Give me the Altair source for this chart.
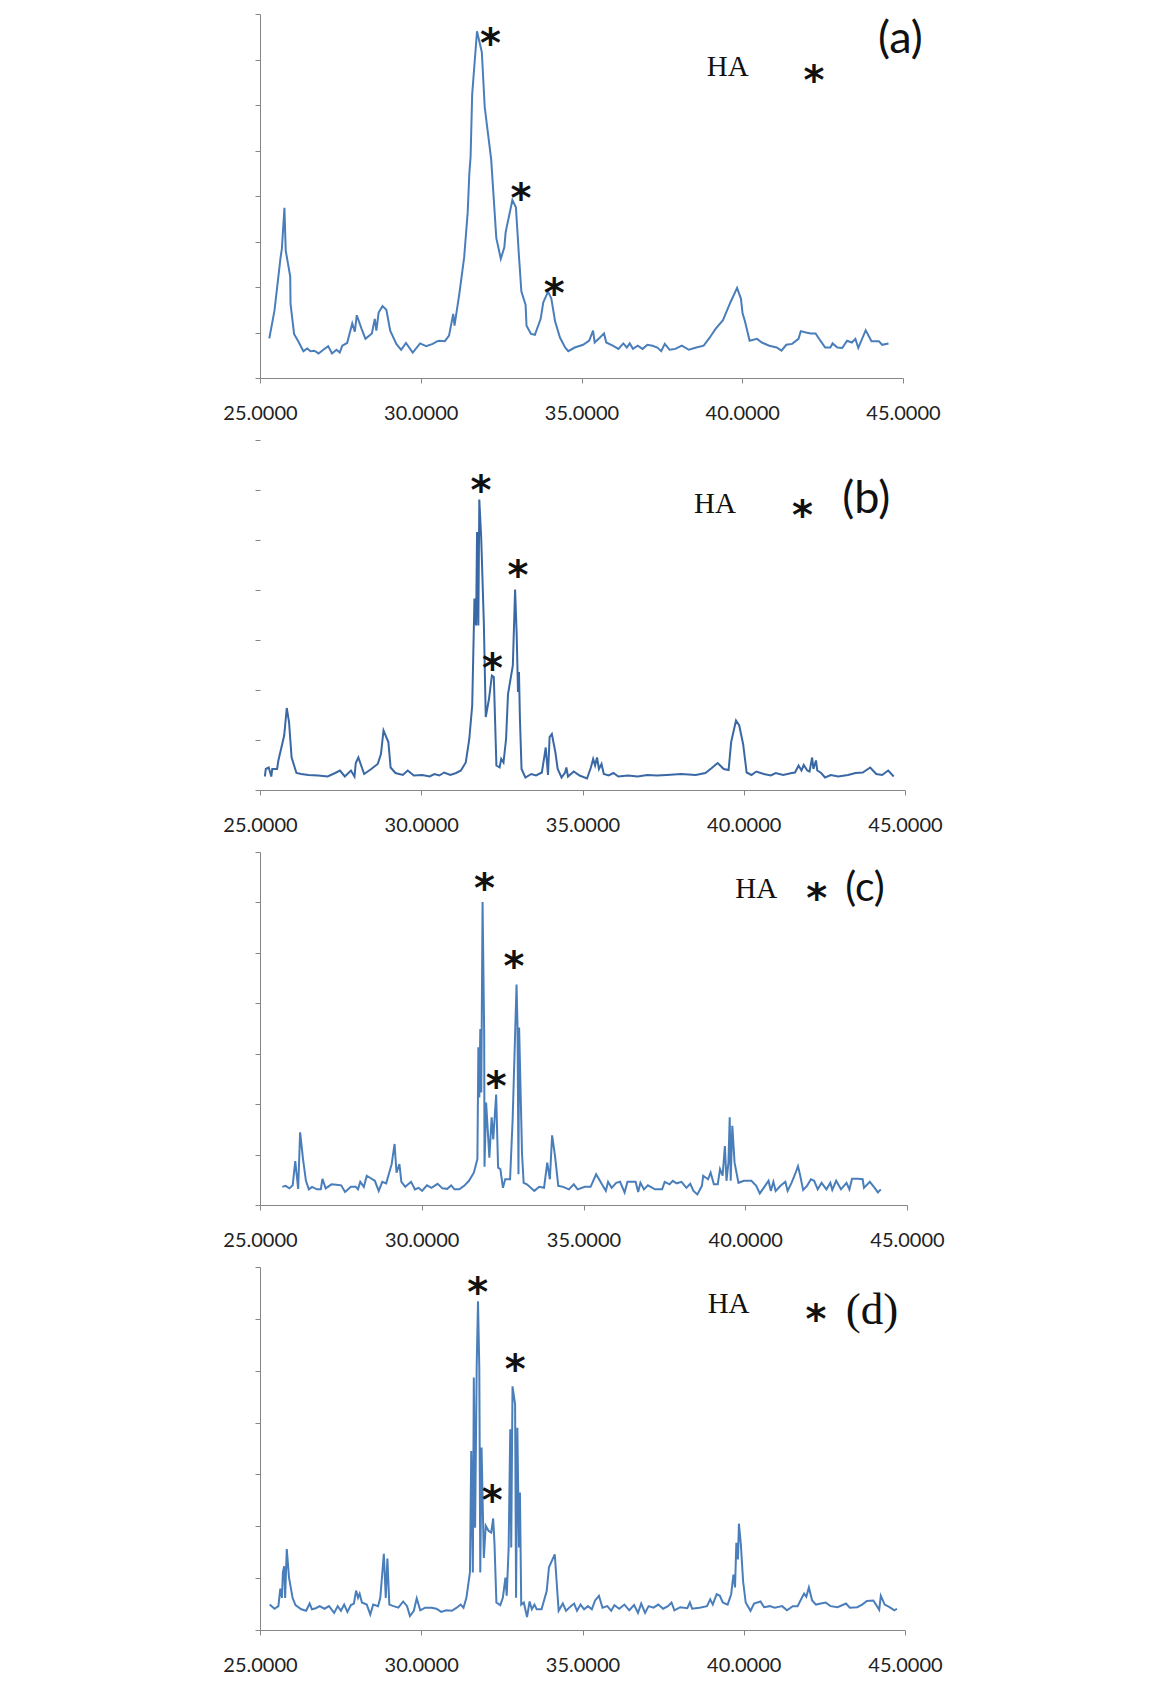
import altair as alt
import pandas as pd

X_TICKS = [25, 30, 35, 40, 45]

# ---------------- panel (a) ----------------
A_PTS = [(25.29,0.87),(25.45,1.48),(25.64,2.65),(25.68,2.84),(25.76,3.74),(25.80,2.80),(25.94,2.23),(25.95,1.63),
 (26.06,0.97),(26.21,0.78),(26.35,0.59),(26.47,0.65),(26.57,0.59),(26.69,0.60),(26.82,0.54),(26.97,0.62),(27.12,0.70),
 (27.24,0.54),(27.38,0.62),(27.48,0.56),(27.56,0.71),(27.71,0.77),(27.87,1.20),(27.95,1.02),(28.01,1.38),(28.16,1.08),
 (28.28,0.86),(28.48,0.98),(28.57,1.30),(28.62,1.04),(28.69,1.44),(28.81,1.58),(28.93,1.50),(29.05,1.04),(29.24,0.75),
 (29.39,0.62),(29.54,0.77),(29.75,0.56),(29.98,0.76),(30.17,0.70),(30.37,0.75),(30.52,0.81),(30.58,0.82),(30.75,0.81),
 (30.88,0.93),(31.01,1.41),(31.05,1.15),(31.20,1.85),(31.35,2.65),(31.46,3.64),(31.51,4.48),(31.55,4.86),(31.60,6.24),
 (31.75,7.62),(31.90,7.16),(31.99,5.95),(32.19,4.81),(32.35,3.08),(32.49,2.62),(32.60,2.87),(32.64,3.20),(32.85,3.91),
 (32.96,3.75),(33.05,2.73),(33.13,1.90),(33.26,1.61),(33.29,1.15),(33.43,0.97),(33.55,0.95),(33.73,1.30),(33.81,1.66),
 (33.96,1.90),(34.06,1.75),(34.18,1.24),(34.33,0.89),(34.49,0.67),(34.59,0.59),(34.79,0.67),(35.05,0.73),(35.24,0.82),
 (35.36,1.04),(35.41,0.78),(35.56,0.88),(35.70,0.98),(35.77,0.78),(35.97,0.71),(36.15,0.64),(36.30,0.76),(36.41,0.67),
 (36.50,0.76),(36.60,0.64),(36.75,0.71),(36.90,0.64),(37.05,0.73),(37.21,0.71),(37.36,0.67),(37.48,0.59),(37.59,0.75),
 (37.74,0.62),(37.92,0.64),(38.12,0.71),(38.34,0.62),(38.57,0.67),(38.80,0.71),(38.98,0.88),(39.17,1.08),(39.40,1.27),
 (39.63,1.66),(39.84,1.98),(39.96,1.74),(40.01,1.42),(40.08,1.26),(40.23,0.82),(40.46,0.86),(40.61,0.78),(40.84,0.71),
 (41.07,0.67),(41.22,0.60),(41.37,0.73),(41.55,0.75),(41.75,0.86),(41.82,1.03),(41.98,1.00),(42.13,0.98),(42.28,0.98),
 (42.43,0.82),(42.58,0.67),(42.74,0.67),(42.81,0.76),(42.96,0.67),(43.11,0.66),(43.26,0.82),(43.41,0.78),(43.52,0.86),
 (43.61,0.66),(43.84,1.05),(44.02,0.81),(44.25,0.81),(44.35,0.73),(44.55,0.76)]
A_STARS = [(32.17,7.56),(33.12,4.15),(34.15,2.07),(42.23,6.75)]
A_HA = [(39.55,6.83)]
A_LABEL = [(44.92,7.45)]

# ---------------- panel (b) ----------------
B_PTS = [(25.15,0.27),(25.18,0.42),(25.27,0.45),(25.35,0.27),(25.38,0.42),(25.53,0.42),(25.57,0.59),(25.75,1.09),
 (25.83,1.64),(25.90,1.36),(25.98,0.65),(26.13,0.34),(26.28,0.32),(26.50,0.30),(26.80,0.29),(27.10,0.27),(27.33,0.34),
 (27.48,0.39),(27.63,0.27),(27.82,0.39),(27.93,0.27),(27.97,0.54),(28.05,0.65),(28.23,0.32),(28.45,0.42),(28.65,0.52),
 (28.75,0.72),(28.83,1.19),(28.98,0.96),(29.05,0.45),(29.20,0.34),(29.43,0.30),(29.58,0.39),(29.77,0.29),(30.03,0.30),
 (30.26,0.27),(30.41,0.32),(30.56,0.29),(30.71,0.35),(30.90,0.30),(31.08,0.34),(31.23,0.39),(31.38,0.55),(31.49,1.02),
 (31.58,1.69),(31.65,3.83),(31.70,3.29),(31.73,5.16),(31.77,3.29),(31.80,5.81),(31.86,5.03),(31.94,3.36),(32.00,1.46),
 (32.10,1.82),(32.19,2.29),(32.25,2.26),(32.33,0.49),(32.43,0.45),(32.48,0.62),(32.55,0.55),(32.63,1.02),(32.69,1.92),
 (32.84,2.49),(32.91,4.01),(32.96,3.09),(33.00,1.96),(33.03,2.36),(33.06,1.42),(33.11,0.42),(33.23,0.25),(33.41,0.32),
 (33.56,0.29),(33.74,0.35),(33.86,0.85),(33.93,0.30),(33.98,1.06),(34.05,1.12),(34.16,0.75),(34.23,0.42),(34.35,0.25),
 (34.46,0.35),(34.50,0.45),(34.55,0.27),(34.73,0.37),(34.91,0.29),(35.14,0.23),(35.26,0.45),(35.33,0.62),(35.39,0.49),
 (35.45,0.65),(35.51,0.42),(35.59,0.52),(35.66,0.32),(35.81,0.29),(35.96,0.34),(36.11,0.27),(36.41,0.29),(36.71,0.27),
 (37.01,0.30),(37.31,0.29),(37.61,0.30),(38.06,0.32),(38.51,0.30),(38.81,0.34),(38.99,0.43),(39.19,0.54),(39.38,0.42),
 (39.53,0.40),(39.61,0.96),(39.76,1.39),(39.86,1.29),(39.98,0.92),(40.09,0.35),(40.24,0.30),(40.39,0.37),(40.62,0.32),
 (40.84,0.29),(40.99,0.34),(41.22,0.30),(41.49,0.34),(41.59,0.35),(41.70,0.49),(41.79,0.39),(41.86,0.50),(41.97,0.39),
 (42.04,0.37),(42.12,0.65),(42.16,0.42),(42.24,0.59),(42.28,0.39),(42.40,0.34),(42.52,0.25),(42.70,0.30),(42.93,0.27),
 (43.23,0.30),(43.47,0.34),(43.69,0.35),(43.92,0.45),(44.11,0.32),(44.29,0.30),(44.48,0.39),(44.65,0.27)]
B_STARS = [(31.85,6.18),(33.00,4.48),(32.21,2.63),(41.82,5.68)]
B_HA = [(39.11,5.73)]
B_LABEL = [(43.80,5.83)]

# ---------------- panel (c) ----------------
C_PTS = [(25.69,0.36),(25.79,0.38),(25.91,0.33),(26.01,0.39),(26.09,0.87),(26.18,0.32),(26.24,1.44),(26.33,0.91),
 (26.42,0.48),(26.51,0.31),(26.61,0.36),(26.76,0.31),(26.88,0.31),(26.93,0.52),(27.03,0.33),(27.21,0.41),(27.36,0.40),
 (27.51,0.39),(27.63,0.26),(27.81,0.36),(27.96,0.36),(28.03,0.31),(28.10,0.46),(28.21,0.36),(28.30,0.58),(28.40,0.54),
 (28.55,0.48),(28.67,0.28),(28.78,0.46),(28.90,0.43),(29.07,0.81),(29.16,1.21),(29.22,0.64),(29.31,0.81),(29.37,0.46),
 (29.49,0.36),(29.67,0.46),(29.79,0.31),(29.90,0.34),(30.01,0.28),(30.16,0.39),(30.30,0.34),(30.49,0.42),(30.64,0.33),
 (30.79,0.32),(30.91,0.39),(31.01,0.31),(31.16,0.31),(31.31,0.38),(31.46,0.48),(31.61,0.64),(31.72,0.91),(31.75,3.13),
 (31.78,2.13),(31.81,3.49),(31.84,2.23),(31.88,6.01),(31.93,3.36),(31.94,0.76),(31.99,2.03),(32.09,0.94),(32.16,1.74),
 (32.21,1.30),(32.30,2.19),(32.36,0.74),(32.43,0.71),(32.51,0.34),(32.58,0.51),(32.73,0.51),(32.81,1.70),(32.93,4.37),
 (32.96,3.56),(32.99,0.61),(33.01,3.52),(33.06,2.13),(33.10,1.01),(33.15,0.44),(33.25,0.41),(33.48,0.28),(33.63,0.36),
 (33.78,0.34),(33.88,0.84),(33.96,0.51),(34.03,1.38),(34.12,0.97),(34.22,0.38),(34.37,0.36),(34.55,0.31),(34.70,0.41),
 (34.82,0.31),(35.04,0.36),(35.22,0.36),(35.39,0.61),(35.57,0.41),(35.69,0.28),(35.76,0.46),(35.87,0.34),(36.01,0.44),
 (36.13,0.46),(36.27,0.25),(36.36,0.46),(36.61,0.46),(36.69,0.26),(36.76,0.44),(36.87,0.31),(36.99,0.39),(37.21,0.31),
 (37.43,0.31),(37.51,0.46),(37.66,0.41),(37.76,0.48),(37.88,0.43),(38.03,0.46),(38.18,0.34),(38.30,0.42),(38.40,0.28),
 (38.52,0.21),(38.66,0.38),(38.70,0.58),(38.85,0.51),(38.93,0.64),(39.03,0.41),(39.15,0.41),(39.22,0.71),(39.30,0.58),
 (39.37,1.17),(39.42,0.48),(39.48,0.84),(39.52,1.74),(39.55,0.48),(39.60,1.57),(39.67,0.84),(39.79,0.44),(39.96,0.48),
 (40.19,0.48),(40.34,0.38),(40.45,0.23),(40.57,0.34),(40.72,0.48),(40.79,0.28),(40.87,0.46),(40.94,0.28),(41.09,0.38),
 (41.24,0.46),(41.31,0.28),(41.43,0.44),(41.54,0.61),(41.63,0.77),(41.69,0.61),(41.79,0.30),(41.91,0.38),(42.03,0.51),
 (42.13,0.48),(42.24,0.31),(42.36,0.44),(42.51,0.31),(42.63,0.44),(42.69,0.30),(42.81,0.48),(42.96,0.31),(43.13,0.44),
 (43.22,0.31),(43.30,0.52),(43.48,0.52),(43.63,0.51),(43.67,0.34),(43.85,0.46),(44.00,0.34),(44.10,0.25),(44.19,0.31)]
C_STARS = [(31.94,6.47),(32.85,4.91),(32.30,2.53),(42.21,6.27)]
C_HA = [(40.34,6.27)]
C_LABEL = [(43.70,6.27)]

# ---------------- panel (d) ----------------
D_PTS = [(25.30,0.49),(25.45,0.41),(25.57,0.46),(25.63,0.80),(25.68,0.62),(25.71,1.11),(25.75,1.23),(25.78,0.62),
 (25.83,1.56),(25.90,1.01),(26.01,0.62),(26.10,0.48),(26.28,0.40),(26.43,0.37),(26.54,0.51),(26.61,0.40),(26.73,0.42),
 (26.85,0.46),(27.00,0.41),(27.14,0.46),(27.30,0.33),(27.41,0.46),(27.51,0.37),(27.61,0.49),(27.71,0.35),(27.82,0.48),
 (27.91,0.51),(27.98,0.76),(28.04,0.62),(28.09,0.70),(28.16,0.53),(28.31,0.49),(28.42,0.30),(28.51,0.49),(28.66,0.46),
 (28.73,0.62),(28.84,1.47),(28.90,0.62),(28.95,1.38),(29.01,0.49),(29.14,0.46),(29.29,0.43),(29.44,0.55),(29.56,0.46),
 (29.65,0.27),(29.77,0.37),(29.86,0.61),(29.97,0.38),(30.12,0.43),(30.32,0.43),(30.47,0.41),(30.62,0.35),(30.77,0.38),
 (30.95,0.37),(31.10,0.43),(31.22,0.49),(31.31,0.43),(31.40,0.62),(31.51,1.11),(31.55,3.45),(31.60,1.11),(31.63,4.87),
 (31.67,1.97),(31.72,5.12),(31.76,6.34),(31.80,5.06),(31.83,1.11),(31.87,3.52),(31.94,1.39),(32.00,2.01),(32.09,1.91),
 (32.17,1.88),(32.23,2.15),(32.27,1.68),(32.33,0.53),(32.45,0.48),(32.53,0.62),(32.61,1.01),(32.65,0.66),(32.71,1.59),
 (32.76,3.87),(32.79,1.59),(32.83,4.70),(32.91,4.35),(32.94,0.62),(32.98,3.90),(33.03,1.59),(33.06,2.65),(33.10,0.49),
 (33.18,0.53),(33.28,0.25),(33.36,0.55),(33.43,0.40),(33.51,0.49),(33.58,0.40),(33.73,0.40),(33.89,0.75),(33.96,1.21),
 (34.14,1.46),(34.26,0.37),(34.39,0.51),(34.49,0.37),(34.64,0.46),(34.74,0.51),(34.83,0.37),(34.94,0.49),(35.05,0.40),
 (35.17,0.46),(35.29,0.40),(35.39,0.57),(35.51,0.66),(35.62,0.43),(35.77,0.46),(35.89,0.37),(35.99,0.48),(36.14,0.41),
 (36.30,0.49),(36.45,0.38),(36.60,0.48),(36.72,0.33),(36.82,0.51),(36.94,0.33),(37.05,0.46),(37.20,0.43),(37.35,0.49),
 (37.50,0.41),(37.65,0.46),(37.76,0.53),(37.85,0.38),(38.03,0.44),(38.25,0.42),(38.33,0.53),(38.40,0.41),(38.63,0.43),
 (38.86,0.46),(38.96,0.59),(39.04,0.49),(39.16,0.69),(39.26,0.66),(39.35,0.53),(39.50,0.49),(39.61,0.69),(39.68,1.07),
 (39.73,0.82),(39.77,1.68),(39.82,1.36),(39.85,2.05),(39.91,1.65),(39.98,0.94),(40.06,0.53),(40.21,0.37),(40.32,0.51),
 (40.52,0.55),(40.63,0.44),(40.81,0.46),(40.96,0.43),(41.19,0.46),(41.34,0.38),(41.52,0.46),(41.67,0.46),(41.80,0.62),
 (41.87,0.70),(41.94,0.64),(42.02,0.82),(42.12,0.57),(42.24,0.49),(42.39,0.51),(42.54,0.53),(42.69,0.46),(42.91,0.44),
 (43.17,0.51),(43.29,0.43),(43.52,0.44),(43.67,0.49),(43.82,0.56),(44.02,0.57),(44.20,0.39),(44.25,0.66),(44.37,0.49),
 (44.52,0.44),(44.67,0.38),(44.75,0.41)]
D_STARS = [(31.75,6.70),(32.91,5.20),(32.20,2.68),(42.24,6.18)]
D_HA = [(39.53,6.28)]
D_LABEL = [(43.98,6.18)]


def panel(pts, stars, ha, label_pos, label, label_font, label_size, ytop, width, height,
          color, show_domain=True):
    xs = alt.Scale(domain=[25, 45], nice=False, zero=False)
    ys = alt.Scale(domain=[0, ytop], nice=False, zero=False)
    xaxis = alt.Axis(values=X_TICKS, format=".4f", title=None, grid=False, labelFlush=False)
    yaxis = alt.Axis(values=list(range(ytop + 1)), labels=False, title=None, grid=False,
                     domain=show_domain)
    X = alt.X("x:Q", scale=xs, axis=xaxis)
    Y = alt.Y("y:Q", scale=ys, axis=yaxis)

    line = alt.Chart(pd.DataFrame(pts, columns=["x", "y"])).mark_line(
        color=color, strokeWidth=2).encode(x=X, y=Y)
    star = alt.Chart(pd.DataFrame(stars, columns=["x", "y"])).mark_text(
        text="*", font="DejaVu Sans", fontWeight="bold", fontSize=40, color="#111",
        baseline="middle", align="center", dy=11).encode(x=X, y=Y)
    hat = alt.Chart(pd.DataFrame(ha, columns=["x", "y"])).mark_text(
        text="HA", font="Liberation Serif", fontSize=29, color="#111", baseline="middle",
        align="center").encode(x=X, y=Y)
    lab = alt.Chart(pd.DataFrame(label_pos, columns=["x", "y"])).mark_text(
        text=label, font=label_font, fontSize=label_size, color="#111", baseline="middle",
        align="center").encode(x=X, y=Y)
    return alt.layer(line, star, hat, lab).properties(width=width, height=height)


pa = panel(A_PTS, A_STARS, A_HA, A_LABEL, "(a)", "Lato", 45, 8, 643, 364, "#4A7EBB")
pb = panel(B_PTS, B_STARS, B_HA, B_LABEL, "(b)", "Lato", 45, 7, 645, 350, "#3A68A4",
           show_domain=False)
pc = panel(C_PTS, C_STARS, C_HA, C_LABEL, "(c)", "Lato", 41, 7, 647, 353, "#4A7EBB")
pd_ = panel(D_PTS, D_STARS, D_HA, D_LABEL, "(d)", "Liberation Serif", 45, 7, 645, 363, "#4A7EBB")

chart = alt.vconcat(pa, pb, pc, pd_, spacing=16).properties(
    padding={"left": 214, "top": 5, "right": 5, "bottom": 5}
).configure_axis(
    domainColor="#868686", tickColor="#868686", tickSize=5,
    labelFont="Lato", labelFontSize=20, labelColor="#222", labelPadding=20
).configure_view(stroke=None)

chart.save("out.html", embed_options={"renderer": "svg", "actions": False})
